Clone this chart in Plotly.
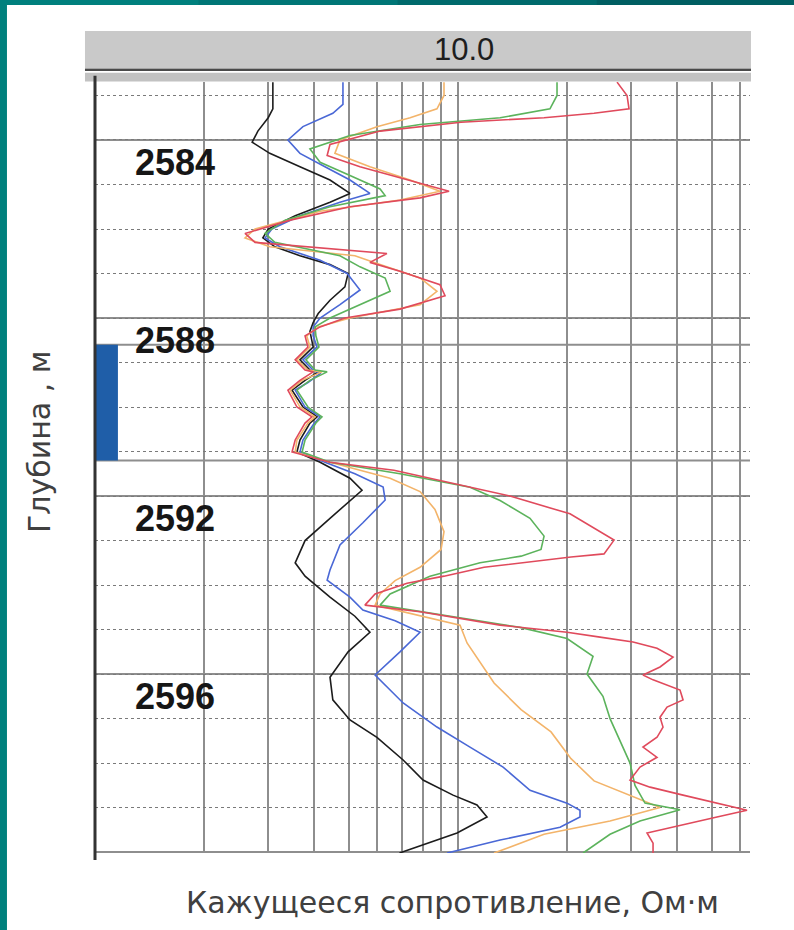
import plotly.graph_objects as go

# ---------------- data ----------------
grid_values = [2, 3, 4, 5, 6, 7, 8, 9, 10, 20, 30, 40, 50, 60]
depth_labels = [2584, 2588, 2592, 2596]
depth_dotted = list(range(2583, 2600))
depth_solid = [2584, 2588, 2592, 2596, 2600]
interval_top = 2588.6
interval_bottom = 2591.2
header_text = "10.0"
x_title = "Кажущееся сопротивление, Ом·м"
y_title = "Глубина , м"

black_depth = [2582.70, 2583.30, 2583.50, 2583.80, 2584.05, 2584.30, 2584.60, 2584.90, 2585.20, 2585.40,
               2585.70, 2586.00, 2586.20, 2586.40, 2586.60, 2586.80, 2587.00, 2587.30, 2587.60, 2587.90,
               2588.10, 2588.30, 2588.65, 2588.94, 2589.17, 2589.21, 2589.40, 2589.62, 2590.00, 2590.22,
               2590.36, 2590.74, 2591.01, 2591.24, 2591.60, 2591.87, 2592.50, 2593.00, 2593.50, 2593.80,
               2594.27, 2594.70, 2595.06, 2595.50, 2596.07, 2596.58, 2597.03, 2597.42, 2597.93, 2598.38,
               2598.72, 2598.94, 2599.21, 2599.57, 2600.02]
black_res = [3.09, 3.09, 3.00, 2.81, 2.71, 3.03, 3.67, 4.44, 5.04, 4.44,
             3.56, 3.00, 2.90, 3.13, 3.67, 4.44, 4.98, 4.88, 4.44, 4.12,
             3.99, 3.91, 3.99, 3.67, 3.91, 4.12, 3.79, 3.49, 3.74, 4.09,
             3.91, 3.67, 3.60, 4.17, 5.04, 5.44, 4.44, 3.79, 3.56, 3.79,
             4.44, 5.20, 5.72, 4.98, 4.44, 4.52, 5.04, 5.98, 7.06, 8.01,
             9.69, 11.28, 12.02, 9.94, 6.90]

blue_depth = [2582.70, 2583.20, 2583.40, 2583.70, 2584.00, 2584.30, 2584.60, 2584.90, 2585.20, 2585.40,
              2585.70, 2586.00, 2586.20, 2586.40, 2586.70, 2587.00, 2587.37, 2587.70, 2588.00, 2588.20,
              2588.40, 2588.65, 2588.94, 2589.17, 2589.25, 2589.45, 2589.62, 2590.00, 2590.22, 2590.40,
              2590.74, 2591.01, 2591.24, 2591.50, 2591.80, 2592.09, 2592.60, 2593.10, 2593.66, 2593.89,
              2594.27, 2594.56, 2594.80, 2595.06, 2595.50, 2596.02, 2596.65, 2597.19, 2597.64, 2598.09,
              2598.61, 2598.90, 2599.06, 2599.21, 2599.44, 2599.57, 2599.73, 2600.02]
blue_res = [4.82, 4.82, 4.52, 3.74, 3.40, 3.67, 4.30, 5.04, 5.72, 4.73,
            3.67, 3.07, 2.94, 3.23, 4.17, 4.95, 5.37, 4.73, 4.17, 3.99,
            3.99, 4.09, 3.74, 3.99, 4.17, 3.86, 3.56, 3.79, 4.17, 3.99,
            3.74, 3.67, 4.30, 5.20, 6.22, 6.30, 5.47, 4.73, 4.44, 4.36,
            5.04, 5.47, 6.71, 7.86, 6.92, 5.91, 7.06, 8.75, 10.79, 13.31,
            15.79, 19.97, 21.68, 21.68, 19.10, 16.09, 13.06, 9.33]

orange_depth = [2582.70, 2583.00, 2583.30, 2583.50, 2583.70, 2584.00, 2584.30, 2584.60, 2584.90, 2585.15,
                2585.35, 2585.60, 2586.00, 2586.20, 2586.40, 2586.60, 2586.80, 2587.10, 2587.40, 2587.70,
                2588.00, 2588.20, 2588.40, 2588.65, 2588.94, 2589.17, 2589.21, 2589.40, 2589.62, 2590.00,
                2590.22, 2590.36, 2590.74, 2591.01, 2591.24, 2591.60, 2591.90, 2592.30, 2592.80, 2593.20,
                2593.60, 2593.90, 2594.20, 2594.45, 2594.90, 2595.30, 2596.20, 2596.80, 2597.30, 2597.90,
                2598.40, 2598.70, 2599.00, 2599.30, 2599.60, 2600.02]
orange_res = [9.15, 9.15, 8.75, 7.38, 5.98, 4.73, 4.58, 5.72, 7.38, 8.92,
              6.92, 4.17, 2.76, 2.59, 3.03, 5.20, 6.10, 7.86, 8.75, 7.86,
              5.04, 4.12, 3.83, 3.91, 3.60, 3.86, 4.22, 3.72, 3.45, 3.67,
              4.04, 3.86, 3.60, 3.56, 4.44, 6.50, 7.86, 8.64, 9.15, 8.98,
              7.86, 6.71, 6.10, 5.91, 10.13, 10.59, 12.57, 14.92, 18.04, 20.48,
              23.70, 29.22, 36.02, 26.23, 17.26, 12.57]

green_depth = [2582.70, 2583.00, 2583.30, 2583.50, 2583.65, 2583.90, 2584.20, 2584.50, 2584.80, 2585.10,
               2585.25, 2585.50, 2585.80, 2586.10, 2586.30, 2586.60, 2586.85, 2587.10, 2587.40, 2587.70,
               2588.00, 2588.20, 2588.40, 2588.65, 2588.94, 2589.17, 2589.21, 2589.40, 2589.62, 2590.00,
               2590.22, 2590.36, 2590.74, 2591.01, 2591.24, 2591.50, 2591.80, 2592.10, 2592.50, 2592.90,
               2593.20, 2593.35, 2593.50, 2593.80, 2594.20, 2594.45, 2594.95, 2595.20, 2595.60, 2596.00,
               2596.50, 2597.00, 2597.50, 2598.00, 2598.50, 2598.90, 2599.05, 2599.30, 2599.60, 2600.02]
green_res = [18.74, 18.74, 17.92, 13.06, 7.86, 5.04, 3.91, 4.17, 5.04, 6.10,
             6.30, 4.44, 3.34, 2.94, 3.13, 4.73, 5.37, 6.30, 6.50, 5.37,
             4.44, 4.04, 4.06, 4.14, 3.81, 4.04, 4.36, 3.91, 3.60, 3.86,
             4.22, 4.06, 3.79, 3.72, 4.44, 6.92, 10.79, 13.06, 15.79, 17.26,
             16.93, 14.92, 11.50, 8.37, 6.50, 6.10, 14.82, 19.97, 23.55, 22.67,
             25.08, 26.23, 27.95, 29.78, 30.73, 32.75, 40.89, 31.72, 26.23, 22.11]

red_depth = [2582.70, 2583.00, 2583.30, 2583.40, 2583.50, 2583.60, 2583.80, 2584.10, 2584.35, 2584.60,
             2584.85, 2585.15, 2585.30, 2585.50, 2585.80, 2586.10, 2586.30, 2586.45, 2586.55, 2586.75,
             2586.95, 2587.25, 2587.50, 2587.80, 2588.00, 2588.20, 2588.40, 2588.65, 2588.94, 2589.17,
             2589.21, 2589.40, 2589.62, 2590.00, 2590.22, 2590.36, 2590.74, 2591.01, 2591.24, 2591.42,
             2592.00, 2592.40, 2592.99, 2593.30, 2593.37, 2593.60, 2593.80, 2593.96, 2594.20, 2594.45,
             2594.60, 2594.90, 2595.06, 2595.17, 2595.28, 2595.42, 2595.62, 2595.84, 2596.02, 2596.13,
             2596.36, 2596.58, 2596.74, 2596.97, 2597.19, 2597.42, 2597.64, 2597.87, 2598.09, 2598.38,
             2598.54, 2598.72, 2598.90, 2599.06, 2599.21, 2599.44, 2599.57, 2599.80, 2600.02]
red_res = [27.42, 29.22, 29.59, 23.70, 17.26, 10.19, 6.10, 4.44, 4.36, 5.37,
           6.92, 9.45, 7.86, 5.04, 3.45, 2.59, 2.76, 4.44, 6.37, 5.72,
           6.92, 8.92, 9.21, 6.92, 4.88, 4.17, 3.79, 3.86, 3.56, 3.79,
           3.99, 3.67, 3.40, 3.60, 3.96, 3.79, 3.56, 3.49, 4.44, 6.66,
           13.91, 20.35, 26.91, 25.25, 20.48, 11.80, 9.15, 7.24, 5.91, 5.54,
           7.86, 13.06, 19.97, 24.62, 30.35, 35.34, 39.12, 36.02, 32.33, 34.46,
           40.89, 41.68, 37.66, 36.02, 36.71, 35.34, 32.33, 35.34, 31.72, 29.78,
           33.81, 41.68, 51.70, 62.55, 51.70, 39.12, 33.17, 34.46, 34.46]

series = [
    ("black", black_depth, black_res, "#1c1c1c"),
    ("blue", blue_depth, blue_res, "#4a68d6"),
    ("orange", orange_depth, orange_res, "#f3b46a"),
    ("green", green_depth, green_res, "#5cb35c"),
    ("red", red_depth, red_res, "#e04a5c"),
]

# ---------------- figure ----------------
fig = go.Figure()
for name, d, r, c in series:
    fig.add_trace(go.Scatter(x=r, y=d, mode="lines", name=name,
                             line=dict(color=c, width=1.6), showlegend=False,
                             hoverinfo="skip"))

shapes = []
# solid horizontal lines
for dep in depth_solid + [interval_top, interval_bottom]:
    shapes.append(dict(type="line", xref="paper", yref="y", x0=0, x1=1, y0=dep, y1=dep,
                       line=dict(color="#8e8e8e", width=2), layer="below"))
# interval marker bar
shapes.append(dict(type="rect", xref="paper", yref="y", x0=0, x1=0.035,
                   y0=interval_top, y1=interval_bottom,
                   fillcolor="#1f5ea8", line=dict(width=0), layer="above"))
# header bar
shapes.append(dict(type="rect", xref="paper", yref="paper", x0=-0.0153, x1=1.0015,
                   y0=1.0182, y1=1.0661, fillcolor="#c9c9c9", line=dict(width=0)))
shapes.append(dict(type="line", xref="paper", yref="paper", x0=-0.0153, x1=1.0015,
                   y0=1.0160, y1=1.0160, line=dict(color="#4a4a4a", width=2.5)))
shapes.append(dict(type="rect", xref="paper", yref="paper", x0=-0.0153, x1=1.0015,
                   y0=1.0008, y1=1.0120, fillcolor="#c2c2c2", line=dict(width=0)))
# left plot frame
shapes.append(dict(type="line", xref="paper", yref="paper", x0=0, x1=0,
                   y0=-0.009, y1=1.008, line=dict(color="#333333", width=3), layer="above"))
# teal page border
shapes.append(dict(type="rect", xref="paper", yref="paper", x0=-0.146, x1=-0.1344,
                   y0=-0.101, y1=1.107, fillcolor="#00807d", line=dict(width=0)))
teal_top = ["#00807d", "#007676", "#006a6c", "#005e62"]
seg = (1.07 + 0.146) / len(teal_top)
for i, col in enumerate(teal_top):
    shapes.append(dict(type="rect", xref="paper", yref="paper",
                       x0=-0.146 + i * seg, x1=-0.146 + (i + 1) * seg + 0.002,
                       y0=1.1, y1=1.107, fillcolor=col, line=dict(width=0)))

annotations = []
for dl in depth_labels:
    annotations.append(dict(xref="paper", yref="y", x=0.122, y=dl + 0.5, text=f"<b>{dl}</b>",
                            showarrow=False, xanchor="center", yanchor="middle",
                            font=dict(family="Liberation Sans, Arial", size=36, color="#161616")))
annotations.append(dict(xref="paper", yref="paper", x=0.563, y=1.0425, text=header_text,
                        showarrow=False, xanchor="center", yanchor="middle",
                        font=dict(family="Liberation Sans, Arial", size=31, color="#1e1e1e")))
annotations.append(dict(xref="paper", yref="paper", x=0.546, y=-0.064, text=x_title,
                        showarrow=False, xanchor="center", yanchor="middle",
                        font=dict(family="DejaVu Sans", size=30, color="#404040")))
annotations.append(dict(xref="paper", yref="paper", x=-0.0855, y=0.533, text=y_title,
                        showarrow=False, xanchor="center", yanchor="middle", textangle=-90,
                        font=dict(family="DejaVu Sans", size=30, color="#404040")))

fig.update_layout(
    width=794, height=930, autosize=False,
    margin=dict(l=95, r=44, t=82, b=77, pad=0),
    paper_bgcolor="white", plot_bgcolor="white",
    shapes=shapes, annotations=annotations,
    xaxis=dict(type="log", range=[0, 1.8044], tickvals=grid_values, showticklabels=False,
               ticks="", showgrid=True, gridcolor="#8e8e8e", gridwidth=1.6,
               zeroline=False, showline=False),
    yaxis=dict(range=[2600.02, 2582.697], tickvals=depth_dotted, showticklabels=False,
               ticks="", showgrid=True, gridcolor="#7a7a7a", gridwidth=1.3, griddash="dot",
               zeroline=False, showline=False),
)

fig.write_html("out.html", post_script="document.body.style.margin='0px';")
